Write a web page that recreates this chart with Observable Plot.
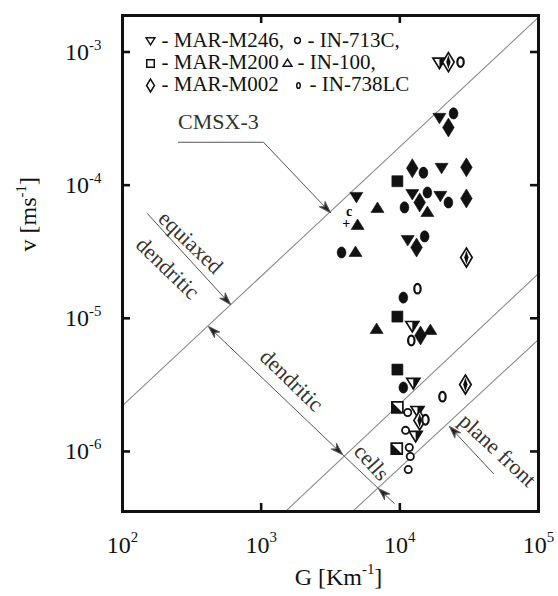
<!DOCTYPE html>
<html>
<head>
<meta charset="utf-8">
<script src="https://cdn.jsdelivr.net/npm/d3@7"></script>
<script src="https://cdn.jsdelivr.net/npm/@observablehq/plot@0.6"></script>
<style>
  html, body { margin: 0; padding: 0; background: #fff; }
  #chart svg, #chart svg text { font-family: "Liberation Serif", "Times New Roman", Times, serif; }
</style>
</head>
<body>
<div id="chart"></div>
<script>
// ---------------- data ----------------
const xTicks = [1e2, 1e3, 1e4, 1e5];
const yTicks = [1e-3, 1e-4, 1e-5, 1e-6];
const xDomain = [1e2, 1e5];
const yDomain = [3.54e-7, 1.88e-3];

// [G (K/m), v (m/s), marker state]
const marM246 = [
  [1.93e4, 8.4e-4, "half"], [1.93e4, 3.23e-4, "full"], [2.0e4, 1.36e-4, "full"],
  [1.23e4, 8.66e-5, "full"], [1.96e4, 8.38e-5, "full"], [1.14e4, 3.91e-5, "full"],
  [4.86e3, 8.23e-5, "full"], [1.23e4, 8.83e-6, "half"], [1.25e4, 3.3e-6, "half"],
  [1.34e4, 2.03e-6, "half"], [1.3e4, 1.32e-6, "half"]
];
const marM200 = [
  [9.6e3, 1.07e-4, "full"], [9.6e3, 1.03e-5, "full"], [9.6e3, 4.12e-6, "full"],
  [9.6e3, 2.14e-6, "half"], [9.5e3, 1.05e-6, "half"]
];
const marM002 = [
  [2.24e4, 8.4e-4, "half"], [2.24e4, 2.71e-4, "full"], [1.23e4, 1.34e-4, "full"],
  [3.02e4, 1.36e-4, "full"], [1.39e4, 7.41e-5, "full"], [3.02e4, 7.95e-5, "full"],
  [1.32e4, 3.4e-5, "full"], [1.41e4, 7.43e-6, "full"], [3.02e4, 2.86e-5, "half"],
  [2.97e4, 3.18e-6, "half"], [1.39e4, 1.71e-6, "half"]
];
const in713C = [
  [1.14e4, 1.96e-6, "open"], [1.1e4, 1.44e-6, "open"], [1.17e4, 1.07e-6, "open"],
  [1.19e4, 9.16e-7, "open"], [1.15e4, 7.31e-7, "open"]
];
const in100 = [
  [1.58e4, 6.23e-5, "full"], [4.96e3, 4.98e-5, "full"], [6.9e3, 6.68e-5, "full"],
  [4.79e3, 3.12e-5, "full"], [6.8e3, 8.24e-6, "full"], [1.66e4, 8.1e-6, "full"]
];
const in738LC = [
  [2.44e4, 3.46e-4, "full"], [1.48e4, 1.24e-4, "full"], [1.58e4, 8.81e-5, "full"],
  [1.08e4, 6.8e-5, "full"], [2.24e4, 7.41e-5, "full"], [1.51e4, 4.12e-5, "full"],
  [3.8e3, 3.12e-5, "full"], [1.06e4, 1.43e-5, "full"], [1.06e4, 3.02e-6, "full"],
  [2.74e4, 8.4e-4, "open"], [1.34e4, 1.67e-5, "open"], [1.21e4, 6.81e-6, "open"],
  [2.03e4, 2.58e-6, "open"], [1.53e4, 1.73e-6, "open"]
];
const cmsx3 = [[4.3e3, 6.34e-5, "c"], [4.1e3, 5.15e-5, "+"]];

const legendLabels = ["- MAR-M246,", "- IN-713C,", "- MAR-M200", "- IN-100,", "- MAR-M002", "- IN-738LC"];

// structure boundaries (G, v)
const boundaryA = [[100, 2.21e-6], [1e5, 1.82e-3]];
const boundaryB = [[1496, 3.54e-7], [1e5, 2.17e-5]];
const boundaryC = [[4560, 3.54e-7], [1e5, 6.93e-6]];

// annotations
const annotationText = ["CMSX-3", "equiaxed", "dendritic", "dendritic", "cells", "plane front"];
const annotationG = [492, 309, 211, 1656, 6250, 5.06e4];
const annotationV = [2.96e-4, 3.71e-5, 2.37e-5, 3.41e-6, 8.26e-7, 1.02e-6];
const cmsxArrow = [[253, 2.1e-4], [1040, 2.1e-4], [3162, 6.2e-5]];
const equiaxedArrow = [[151, 6.12e-5], [601, 1.27e-5]];
const dendriticArrow = [[417, 8.67e-6], [3862, 9.48e-7]];
const cellsLine = [[3862, 9.48e-7], [7015, 5.26e-7]];
const cellsArrow = [[9140, 4.06e-7], [7015, 5.26e-7]];
const planeArrow = [[4.73e4, 6.82e-7], [2.28e4, 1.54e-6]];

// ---------------- layout / style ----------------
const W = 558, H = 596, ML = 122, MR = 20, MT = 15, MB = 85;
const FW = W - ML - MR, FH = H - MT - MB;
const INK = "#111";
const SERIF = "Liberation Serif";
const ns = "http://www.w3.org/2000/svg";

function poly(pts) {
  return {draw(ctx, size) {
    const k = Math.sqrt(size / Math.PI) / 5;
    pts.forEach(([x, y], i) => i ? ctx.lineTo(x * k, y * k) : ctx.moveTo(x * k, y * k));
    ctx.closePath();
  }};
}
function oval(rx, ry) {
  return {draw(ctx, size) {
    const k = Math.sqrt(size / Math.PI) / 5, a = rx * k, b = ry * k, c = 0.5523;
    ctx.moveTo(a, 0);
    ctx.bezierCurveTo(a, c * b, c * a, b, 0, b);
    ctx.bezierCurveTo(-c * a, b, -a, c * b, -a, 0);
    ctx.bezierCurveTo(-a, -c * b, -c * a, -b, 0, -b);
    ctx.bezierCurveTo(c * a, -b, a, -c * b, a, 0);
    ctx.closePath();
  }};
}
const SYM = {
  invTri: poly([[-6.5, -4], [6.5, -4], [0, 6.5]]),
  tri: poly([[-6.5, 4], [6.5, 4], [0, -6.5]]),
  square: poly([[-5.5, -5.5], [5.5, -5.5], [5.5, 5.5], [-5.5, 5.5]]),
  diamond: poly([[0, -9.5], [5.8, 0], [0, 9.5], [-5.8, 0]]),
  dot: oval(4.4, 5.6),
  ring: oval(3.2, 4.8),
  circle: oval(3.6, 3.6)
};
const HALF = {
  invTri: poly([[0, -4], [6.5, -4], [0, 6.5]]),
  square: poly([[-5.5, -5.5], [5.5, 5.5], [-5.5, 5.5]]),
  diamond: poly([[0, -7], [2.2, 0], [0, 7], [-2.2, 0]])
};

function arrowHead(color, context) {
  const m = document.createElementNS(ns, "marker");
  m.setAttribute("viewBox", "-13 -6 13 12");
  m.setAttribute("markerWidth", 13);
  m.setAttribute("markerHeight", 12);
  m.setAttribute("markerUnits", "userSpaceOnUse");
  m.setAttribute("orient", "auto-start-reverse");
  m.setAttribute("refX", 0);
  m.setAttribute("refY", 0);
  const p = document.createElementNS(ns, "path");
  p.setAttribute("d", "M0,0L-12,-3.8L-8.5,0L-12,3.8Z");
  p.setAttribute("fill", "#222");
  m.appendChild(p);
  return m;
}

const expFmt = d => "10^{" + Math.round(Math.log10(d)) + "}";
const X = d => d[0], Y = d => d[1];

function seriesMarks(data, sym) {
  const full = data.filter(d => d[2] === "full");
  const half = data.filter(d => d[2] === "half");
  const open = data.filter(d => d[2] === "open");
  const marks = [];
  if (full.length) marks.push(Plot.dot(full, {x: X, y: Y, symbol: SYM[sym], r: 5, fill: INK, stroke: INK, strokeWidth: 0.6}));
  if (half.length) {
    marks.push(Plot.dot(half, {x: X, y: Y, symbol: SYM[sym], r: 5, fill: "#fff", stroke: INK, strokeWidth: 1.7}));
    marks.push(Plot.dot(half, {x: X, y: Y, symbol: HALF[sym], r: 5, fill: INK, stroke: "none"}));
  }
  if (open.length) marks.push(Plot.dot(open, {x: X, y: Y, symbol: SYM[sym], r: 5, fill: "#fff", stroke: INK, strokeWidth: sym === "ring" ? 2.2 : 1.8}));
  return marks;
}

const lineStyle = {x: X, y: Y, stroke: "#8c8c8c", strokeWidth: 1.1, clip: true};
const arrowStyle = {x: X, y: Y, stroke: "#555", strokeWidth: 1};

// legend layout (pixel offsets from frame top-left)
const legendSym = ["invTri", "circle", "square", "tri", "diamond", "ring"];
const legendSymPos = [[28, 25], [175, 25], [28, 48], [165, 48], [28, 70], [176, 70]];
const legendTextPos = [[39, 31.7], [185, 31.7], [39, 53.3], [175, 53.3], [39, 75.7], [187, 75.7]];
const legendMarks = [];
legendLabels.forEach((lab, i) => {
  legendMarks.push(Plot.dot([0], {frameAnchor: "top-left", dx: legendSymPos[i][0], dy: legendSymPos[i][1],
    symbol: legendSym[i] === "ring" ? oval(2.6, 4.2) : SYM[legendSym[i]], r: legendSym[i] === "circle" ? 4 : 3.4,
    fill: "#fff", stroke: INK, strokeWidth: 1.5}));
  legendMarks.push(Plot.text([lab], {frameAnchor: "top-left", dx: legendTextPos[i][0], dy: legendTextPos[i][1],
    text: d => d, textAnchor: "start", lineAnchor: "bottom", fontSize: 21, fontFamily: SERIF, fill: INK}));
});

const annotationRotate = [0, 44, 44, 44, 48, 43];

const chart = Plot.plot({
  width: W, height: H,
  marginLeft: ML, marginRight: MR, marginTop: MT, marginBottom: MB,
  x: {type: "log", domain: xDomain, label: null},
  y: {type: "log", domain: yDomain, label: null},
  style: {fontFamily: SERIF, fontSize: "23px", color: INK, background: "#fff", overflow: "visible"},
  marks: [
    // boundaries
    Plot.line(boundaryA, lineStyle),
    Plot.line(boundaryB, lineStyle),
    Plot.line(boundaryC, lineStyle),
    // annotation arrows
    Plot.line(cmsxArrow, {...arrowStyle, markerEnd: arrowHead}),
    Plot.line(equiaxedArrow, {...arrowStyle, markerEnd: arrowHead}),
    Plot.line(dendriticArrow, {...arrowStyle, markerStart: arrowHead, markerEnd: arrowHead}),
    Plot.line(cellsLine, arrowStyle),
    Plot.line(cellsArrow, {...arrowStyle, markerEnd: arrowHead}),
    Plot.line(planeArrow, {...arrowStyle, markerEnd: arrowHead}),
    Plot.text(annotationText, {x: (d, i) => annotationG[i], y: (d, i) => annotationV[i], text: d => d,
      rotate: (d, i) => annotationRotate[i], fontSize: 22, fontFamily: SERIF, fill: "#333"}),
    // data
    ...seriesMarks(marM246, "invTri"),
    ...seriesMarks(marM200, "square"),
    ...seriesMarks(marM002, "diamond"),
    ...seriesMarks(in100, "tri"),
    ...seriesMarks(in713C, "circle"),
    ...seriesMarks(in738LC.filter(d => d[2] === "full"), "dot"),
    ...seriesMarks(in738LC.filter(d => d[2] === "open"), "ring"),
    Plot.text(cmsx3, {x: X, y: Y, text: d => d[2], fontFamily: "DejaVu Sans", fontWeight: "bold", fontSize: 14, fill: "#000"}),
    // legend
    ...legendMarks,
    // frame & ticks
    Plot.frame({stroke: INK, strokeWidth: 3}),
    Plot.tickY(yTicks, {y: d => d, insetRight: FW - 8, stroke: INK, strokeWidth: 2.6}),
    Plot.tickY(yTicks, {y: d => d, insetLeft: FW - 8, stroke: INK, strokeWidth: 2.6}),
    Plot.tickX([1e3, 1e4], {x: d => d, insetTop: FH - 8, stroke: INK, strokeWidth: 2.6}),
    Plot.tickX([1e3, 1e4], {x: d => d, insetBottom: FH - 8, stroke: INK, strokeWidth: 2.6}),
    // axes labels
    Plot.axisX(xTicks, {anchor: "bottom", tickSize: 0, tickPadding: 24, tickFormat: expFmt, fontSize: 24, fontFamily: SERIF, label: null}),
    Plot.axisY(yTicks, {anchor: "left", tickSize: 0, tickPadding: 21, tickFormat: expFmt, fontSize: 24, fontFamily: SERIF, label: null}),
    Plot.text(["G [Km^{-1}]"], {frameAnchor: "bottom", dx: 8, dy: 73, text: d => d, fontSize: 24, fontFamily: SERIF, fill: INK}),
    Plot.text(["v [ms^{-1}]"], {frameAnchor: "left", dx: -94, dy: -12, rotate: -90, text: d => d, fontSize: 24, fontFamily: SERIF, fill: INK})
  ]
});

document.getElementById("chart").appendChild(chart);

// render "^{...}" as superscripts
chart.querySelectorAll("text").forEach(el => {
  const s = el.textContent;
  if (!s.includes("^{") || el.children.length) return;
  const fs = parseFloat(getComputedStyle(el).fontSize) || 22;
  const parts = s.split(/\^\{([^}]*)\}/);
  el.textContent = "";
  let raised = false;
  parts.forEach((p, i) => {
    if (i % 2 === 0 && !p) return;
    const t = document.createElementNS(ns, "tspan");
    if (i % 2 === 1) {
      t.setAttribute("dy", (-0.42 * fs).toFixed(1));
      t.setAttribute("font-size", (0.62 * fs).toFixed(1));
      raised = true;
    } else if (raised) {
      t.setAttribute("dy", (0.42 * fs).toFixed(1));
      raised = false;
    }
    t.textContent = p;
    el.appendChild(t);
  });
});
</script>
</body>
</html>
